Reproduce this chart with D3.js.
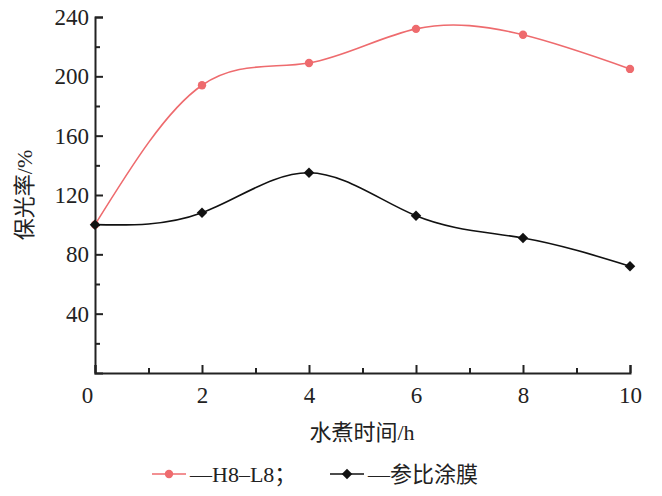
<!DOCTYPE html><html><head><meta charset="utf-8"><script src="https://d3js.org/d3.v7.min.js"></script>
<style>body{margin:0;background:#fff}text{font-family:"Liberation Serif","Noto Sans CJK SC",serif;fill:#222}</style></head><body>
<svg id="c" width="662" height="496"></svg>
<script>
const hours=[0,2,4,6,8,10];
const h8l8=[100,194,209,232,228,205];
const control=[100,108,135,106,91,72];
const yTicks=[40,80,120,160,200,240];
const xTicks=[0,2,4,6,8,10];
const svg=d3.select("#c");
const x=d3.scaleLinear().domain([0,10]).range([95,630]);
const y=d3.scaleLinear().domain([0,240]).range([373,17]);
const xa=svg.append("g").attr("transform","translate(0,373)").call(d3.axisBottom(x).tickValues(d3.range(0,11,1)).tickSize(-8).tickFormat(d=>xTicks.includes(d)?d:""));
xa.selectAll(".tick line").attr("y2",d=>d%2==0?-8:-5);
xa.selectAll("text").attr("y",14).attr("font-size",23);
const ya=svg.append("g").attr("transform","translate(95,0)").call(d3.axisLeft(y).tickValues(d3.range(20,241,20)).tickSize(-8).tickFormat(d=>yTicks.includes(d)?d:""));
ya.selectAll(".tick line").attr("x2",d=>d%40==0?8:5);
ya.selectAll("text").attr("x",-6).attr("font-size",23);
svg.selectAll(".domain,.tick line").attr("stroke","#222").attr("stroke-width",2);
svg.selectAll(".tick text").filter(d=>d===0).attr("dx",-8);
const line=d3.line().x((d,i)=>x(hours[i])).y(d=>y(d)).curve(d3.curveNatural);
function series(vals,col,sym){
 svg.append("path").attr("d",line(vals)).attr("fill","none").attr("stroke",col).attr("stroke-width",1.6);
 svg.selectAll(null).data(vals).enter().append("path").attr("transform",(d,i)=>`translate(${x(hours[i])},${y(d)})`)
  .attr("d",d3.symbol(sym,sym===d3.symbolCircle?55:70)).attr("fill",col);
}
series(h8l8,"#ee6b6e",d3.symbolCircle);
series(control,"#111",d3.symbolDiamond2);
svg.append("text").attr("x",362).attr("y",440).attr("text-anchor","middle").attr("font-size",22).text("水煮时间/h");
svg.append("text").attr("transform","translate(32,195) rotate(-90)").attr("text-anchor","middle").attr("font-size",22).text("保光率/%");
const lg=svg.append("g").attr("transform","translate(0,474)");
lg.append("line").attr("x1",152).attr("x2",186).attr("stroke","#ee6b6e").attr("stroke-width",1.6);
lg.append("circle").attr("cx",169).attr("r",4.2).attr("fill","#ee6b6e");
lg.append("text").attr("x",190).attr("y",8).attr("font-size",22).text("—H8–L8；");
lg.append("line").attr("x1",330).attr("x2",364).attr("stroke","#111").attr("stroke-width",1.6);
lg.append("path").attr("transform","translate(347,0)").attr("d",d3.symbol(d3.symbolDiamond2,70)).attr("fill","#111");
lg.append("text").attr("x",368).attr("y",8).attr("font-size",22).text("—参比涂膜");
</script></body></html>
